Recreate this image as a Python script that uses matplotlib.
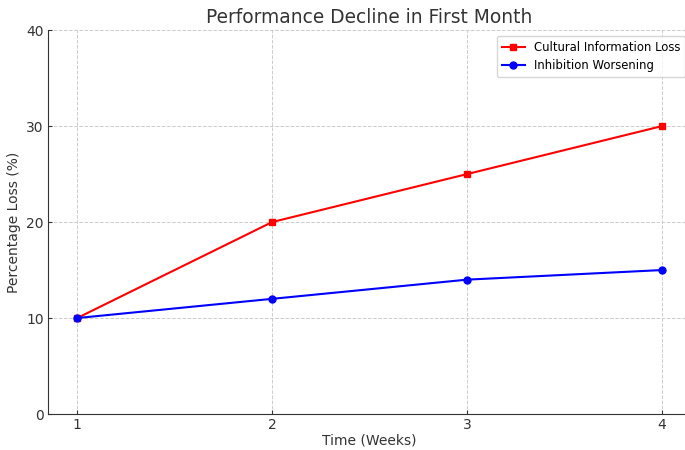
import matplotlib.pyplot as plt

weeks = [1, 2, 3, 4]
cultural_loss = [10, 20, 25, 30]
inhibition = [10, 12, 14, 15]

fig = plt.figure(figsize=(6.85, 4.5), dpi=100)
ax = fig.add_axes([0.070, 0.080, 0.939, 0.853])

ax.plot(weeks, cultural_loss, color='red', marker='s', markersize=5,
        linewidth=1.5, label='Cultural Information Loss')
ax.plot(weeks, inhibition, color='blue', marker='o', markersize=5,
        linewidth=1.5, label='Inhibition Worsening')

ax.set_xlim(0.85, 4.15)
ax.set_ylim(0, 40)
ax.set_xticks(weeks)
ax.set_yticks([0, 10, 20, 30, 40])
ax.grid(True, linestyle='--', color='#cccccc', linewidth=0.7)

ax.spines['top'].set_visible(False)
ax.spines['right'].set_visible(False)
for side in ['left', 'bottom']:
    ax.spines[side].set_color('#333333')
ax.tick_params(colors='#333333', labelsize=10, length=3, direction='in', pad=3)

ax.set_title('Performance Decline in First Month', fontsize=13.4, color='#333333', pad=5)
ax.set_xlabel('Time (Weeks)', fontsize=10, color='#333333', labelpad=1)
ax.set_ylabel('Percentage Loss (%)', fontsize=10, color='#333333', labelpad=4)
ax.legend(loc='upper right', fontsize=8.4, frameon=True)

fig.savefig('out.png', dpi=100)
